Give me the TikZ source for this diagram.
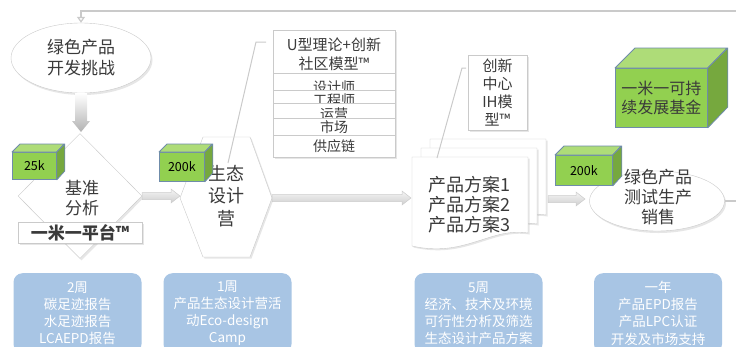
\documentclass[tikz,border=0pt]{standalone}
\usepackage{fontspec}
\setmainfont{Noto Sans CJK SC}
\usetikzlibrary{shapes.geometric,shadows,arrows.meta,calc,positioning}

\definecolor{cubefront}{HTML}{92D050}
\definecolor{cubetop}{HTML}{AEDC78}
\definecolor{cubeside}{HTML}{76A83E}
\definecolor{cubeedge}{HTML}{6F8CAA}
\definecolor{weekblue}{HTML}{A8C5E4}
\definecolor{linegray}{HTML}{CACACA}
\definecolor{txtgray}{HTML}{3A3A3A}

\tikzset{
  bubble/.style={ellipse, draw=linegray, fill=white, inner sep=0pt,
    drop shadow={opacity=0.2, shadow xshift=1.5pt, shadow yshift=-2pt}},
  bubbletext/.style={text=txtgray, align=center, font=\fontsize{17}{21}\selectfont},
  panel/.style={draw=linegray, fill=white,
    drop shadow={opacity=0.2, shadow xshift=1.5pt, shadow yshift=-1.5pt}},
  cubeface/.style={draw=cubeedge, fill=cubefront, line width=0.8pt, inner sep=0pt,
    align=center, font=\fontsize{12.5}{14}\selectfont},
  blockarr/.style={draw=gray!40, line width=0.5pt, top color=gray!8, bottom color=gray!38},
  weekbox/.style={rounded corners=9pt, fill=weekblue, text=white, align=center, anchor=north,
    font=\fontsize{13.5}{17.3}\selectfont, minimum width=128pt, minimum height=80pt},
  callout/.style={draw=linegray, line width=1pt},
  rowtext/.style={text=txtgray, font=\fontsize{14}{16}\selectfont},
}

% green box with its face named #2: [options] name, x, y, width, height, depth, label
\newcommand{\greencube}[8][]{%
  \node[cubeface, anchor=north west, minimum width=#5pt, minimum height=#6pt, #1] (#2) at (#3,#4) {#8};
  \filldraw[draw=cubeedge, fill=cubetop, line width=0.8pt, line join=round]
    (#2.north west) -- ++(#7,-#7) -- ++(#5,0) -- (#2.north east) -- cycle;
  \filldraw[draw=cubeedge, fill=cubeside, line width=0.8pt, line join=round]
    (#2.north east) -- ++(#7,-#7) -- ++(0,#6) -- (#2.south east) -- cycle;
}

% wide gray arrow pointing right, from #1 to #2 (same height)
\newcommand{\rightblock}[2]{%
  \shadedraw[blockarr] let \p1=(#1), \p2=(#2) in
    (\x1,\y1+3.5pt) -- (\x2-9pt,\y1+3.5pt) -- (\x2-9pt,\y1+7pt) -- (\x2,\y1)
    -- (\x2-9pt,\y1-7pt) -- (\x2-9pt,\y1-3.5pt) -- (\x1,\y1-3.5pt) -- cycle;
}

\begin{document}
\begin{tikzpicture}[x=1pt,y=-1pt]
\useasboundingbox (0,0) rectangle (736,346);

% challenge and benchmark
\node[bubble, minimum width=140pt, minimum height=70pt] (challenge) at (81,58) {};
\node[bubbletext] (challengetxt) at (challenge) {绿色产品\\开发挑战};
\coordinate (benchtop) at (81,132);
\shade[top color=white, bottom color=gray!60] let \p1=(challenge.south), \p2=(benchtop) in
  (\x1-6pt,\y1) -- (\x1+6pt,\y1) -- (\x1+6pt,\y2+11pt) -- (\x1+9pt,\y2+11pt) -- (\x2,\y2)
  -- (\x1-9pt,\y2+11pt) -- (\x1-6pt,\y2+11pt) -- cycle;

\node[diamond, draw=linegray, fill=white, inner sep=0pt, minimum width=124pt, minimum height=125pt,
  drop shadow={opacity=0.2, shadow xshift=1.5pt, shadow yshift=-2pt}] (bench) at (80,196) {};
\node[bubbletext, font=\fontsize{17}{20}\selectfont] (benchtxt) at (82,198) {基准\\分析};
\node[panel, minimum width=124pt, minimum height=21pt, inner sep=0pt, text=txtgray,
  font=\fontsize{17}{20}\selectfont\bfseries] (platform) at (80,233) {一米一平台™};
\greencube{costa}{12}{152}{44}{27}{8}{25k}

% eco design camp
\coordinate (campL) at (180,198);
\coordinate (campR) at (272,198);
\draw[panel] (campL) -- (203,137) -- (250,137) -- (campR) -- (250,257) -- (203,257) -- cycle;
\coordinate (campcall) at (228,163);
\draw[callout] (campcall) -- (256,42) -- (266,42);
\node[bubbletext, font=\fontsize{18}{22.5}\selectfont] (camp) at (226,196) {生态\\设计\\营};
\greencube{costb}{159}{152}{45}{29}{8}{200k}
\rightblock{bench.east}{campL}

% U model box
\node[panel, minimum width=122pt, minimum height=127pt, anchor=north west] (ubox) at (273,30) {};
\node[text=txtgray, align=center, font=\fontsize{15}{19}\selectfont] (utitle) at (334,54) {U型理论+创新\\社区模型™};
\foreach \ytop/\ybot/\ytxt/\role [count=\i] in
  {73/90/87/设计师, 90/103/100/工程师, 103/118/114/运营, 118/135/127/市场, 135/157/146/供应链} {
  \begin{scope}
    \clip (273,\ytop) rectangle (395,\ybot);
    \node[rowtext] (role\i) at (334,\ytxt) {\role};
  \end{scope}
  \draw[linegray, line width=0.5pt] (273,\ytop) -- (395,\ytop);
}

% product plans
\foreach \s in {18,9,0}
  \draw[panel, shift={(\s,-\s)}] (412,157) -- (528,157) -- (528,233)
    .. controls (490,227) and (465,258) .. (412,246) -- cycle;
\node[text=txtgray, align=left, font=\fontsize{18}{20}\selectfont] (plans) at (469,205) {产品方案1\\产品方案2\\产品方案3};
\node[panel, minimum width=59pt, minimum height=75pt, align=center, text=txtgray,
  font=\fontsize{15}{17.7}\selectfont] (ihbox) at (497.5,92.5) {创新\\中心\\IH模\\型™};
\coordinate (plancall) at (437,158);
\draw[callout] (plancall) -- (462,68) -- (466,68);
\coordinate (pagein) at (411,199);
\rightblock{campR}{pagein}

% test production
\node[bubble, minimum width=135pt, minimum height=60pt] (test) at (657,201) {};
\coordinate (pageout) at (548,199);
\coordinate (testin) at (585,199);
\rightblock{pageout}{testin}
\greencube{costc}{555}{155}{57}{30}{9}{200k}
\node[bubbletext, font=\fontsize{17}{20}\selectfont] (testtxt) at (658,197) {绿色产品\\测试生产\\销售};
\greencube[font=\fontsize{16}{19}\selectfont, text=txtgray]{fund}{615}{68}{92}{59}{20}{一米一可持\\续发展基金}

% loop back
\draw[linegray, line width=1.2pt, -{Triangle[open, length=6pt, width=8pt]}]
  (test.east) -- (760,201) -- (760,11) -- (81,11) -- (challenge.north);

% durations
\node[weekbox] (weeka) at (77.5,273) {2周\\碳足迹报告\\水足迹报告\\LCAEPD报告};
\node[weekbox] (weekb) at (227.5,273) {1周\\产品生态设计营活\\动Eco-design\\Camp};
\node[weekbox] (weekc) at (478.5,273) {5周\\经济、技术及环境\\可行性分析及筛选\\生态设计产品方案};
\node[weekbox] (weekd) at (658,273) {一年\\产品EPD报告\\产品LPC认证\\开发及市场支持};
\end{tikzpicture}
\end{document}
